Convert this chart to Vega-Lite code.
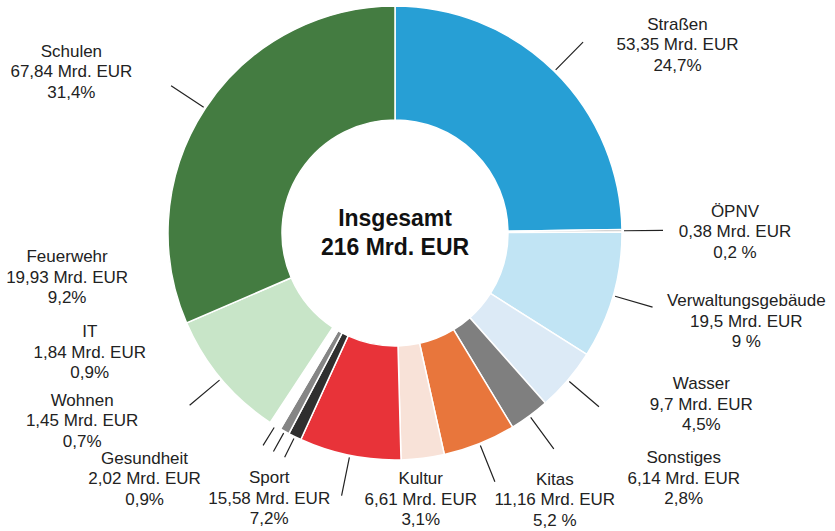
{
  "$schema": "https://vega.github.io/schema/vega-lite/v6.json",
  "width": 790,
  "height": 466,
  "autosize": "none",
  "padding": {"left": 0, "top": 0, "right": 45, "bottom": 65},
  "background": "white",
  "config": {
    "view": {"stroke": null},
    "text": {"font": "Liberation Sans", "fontSize": 17, "color": "#222222", "lineBreak": "\n", "lineHeight": 20.5, "align": "center", "baseline": "middle", "radius": 300}
  },
  "layer": [
    {
      "data": {
        "values": [
          {"n": 1, "cat": "Straßen", "value": 53.35, "label": "Straßen\n53,35 Mrd. EUR\n24,7%"},
          {"n": 2, "cat": "ÖPNV", "value": 0.38, "label": "ÖPNV\n0,38 Mrd. EUR\n0,2 %"},
          {"n": 3, "cat": "Verwaltungsgebäude", "value": 19.5, "label": "Verwaltungsgebäude\n19,5 Mrd. EUR\n9 %"},
          {"n": 4, "cat": "Wasser", "value": 9.7, "label": "Wasser\n9,7 Mrd. EUR\n4,5%"},
          {"n": 5, "cat": "Sonstiges", "value": 6.14, "label": "Sonstiges\n6,14 Mrd. EUR\n2,8%"},
          {"n": 6, "cat": "Kitas", "value": 11.16, "label": "Kitas\n11,16 Mrd. EUR\n5,2 %"},
          {"n": 7, "cat": "Kultur", "value": 6.61, "label": "Kultur\n6,61 Mrd. EUR\n3,1%"},
          {"n": 8, "cat": "Sport", "value": 15.58, "label": "Sport\n15,58 Mrd. EUR\n7,2%"},
          {"n": 9, "cat": "Gesundheit", "value": 2.02, "label": "Gesundheit\n2,02 Mrd. EUR\n0,9%"},
          {"n": 10, "cat": "Wohnen", "value": 1.45, "label": "Wohnen\n1,45 Mrd. EUR\n0,7%"},
          {"n": 11, "cat": "IT", "value": 1.84, "label": "IT\n1,84 Mrd. EUR\n0,9%"},
          {"n": 12, "cat": "Feuerwehr", "value": 19.93, "label": "Feuerwehr\n19,93 Mrd. EUR\n9,2%"},
          {"n": 13, "cat": "Schulen", "value": 67.84, "label": "Schulen\n67,84 Mrd. EUR\n31,4%"}
        ]
      },
      "encoding": {
        "theta": {"field": "value", "type": "quantitative", "stack": true},
        "order": {"field": "n", "type": "quantitative"},
        "detail": {"field": "cat", "type": "nominal"}
      },
      "layer": [
        {
          "mark": {"type": "arc", "radius": 227, "innerRadius": 113, "stroke": "white", "strokeWidth": 1.5},
          "encoding": {
            "color": {
              "field": "cat", "type": "nominal", "legend": null,
              "scale": {
                "domain": ["Straßen", "ÖPNV", "Verwaltungsgebäude", "Wasser", "Sonstiges", "Kitas", "Kultur", "Sport", "Gesundheit", "Wohnen", "IT", "Feuerwehr", "Schulen"],
                "range": ["#279fd5", "#a6a6a6", "#c1e4f4", "#dceaf6", "#7f7f7f", "#e8763c", "#f8e2d8", "#e83339", "#2f2f2f", "#858585", "#ffffff", "#c8e5c8", "#447c41"]
              }
            }
          }
        },
        {
          "mark": {"type": "arc", "radius": 268, "innerRadius": 229, "padAngle": 3, "filled": false, "stroke": "#222222", "strokeWidth": 1.2},
          "encoding": {
            "strokeOpacity": {"condition": {"test": "indexof(['Kultur', 'Gesundheit', 'Wohnen', 'IT'], datum.cat) >= 0", "value": 0}, "value": 1}
          }
        },
        {
          "mark": {"type": "arc", "radius": 250, "innerRadius": 229, "padAngle": 3, "filled": false, "stroke": "#222222", "strokeWidth": 1.2},
          "encoding": {
            "strokeOpacity": {"condition": {"test": "indexof(['Gesundheit', 'Wohnen', 'IT'], datum.cat) >= 0", "value": 1}, "value": 0}
          }
        },
        {"mark": {"type": "text", "dx": 72, "dy": 5.5}, "encoding": {"text": {"condition": {"test": "datum.cat === 'Straßen'", "field": "label"}, "value": ""}}},
        {"mark": {"type": "text", "dx": 40, "dy": -18.5}, "encoding": {"text": {"condition": {"test": "datum.cat === 'ÖPNV'", "field": "label"}, "value": ""}}},
        {"mark": {"type": "text", "dx": 63, "dy": -14.5}, "encoding": {"text": {"condition": {"test": "datum.cat === 'Verwaltungsgebäude'", "field": "label"}, "value": ""}}},
        {"mark": {"type": "text", "dx": 78, "dy": -43.5}, "encoding": {"text": {"condition": {"test": "datum.cat === 'Wasser'", "field": "label"}, "value": ""}}},
        {"mark": {"type": "text", "dx": 111, "dy": -16.5}, "encoding": {"text": {"condition": {"test": "datum.cat === 'Sonstiges'", "field": "label"}, "value": ""}}},
        {"mark": {"type": "text", "dx": 48, "dy": -31.5}, "encoding": {"text": {"condition": {"test": "datum.cat === 'Kitas'", "field": "label"}, "value": ""}}},
        {"mark": {"type": "text", "dx": -11, "dy": -51.5}, "encoding": {"text": {"condition": {"test": "datum.cat === 'Kultur'", "field": "label"}, "value": ""}}},
        {"mark": {"type": "text", "dx": -66, "dy": -48.5}, "encoding": {"text": {"condition": {"test": "datum.cat === 'Sport'", "field": "label"}, "value": ""}}},
        {"mark": {"type": "text", "dx": -118, "dy": -43.5}, "encoding": {"text": {"condition": {"test": "datum.cat === 'Gesundheit'", "field": "label"}, "value": ""}}},
        {"mark": {"type": "text", "dx": -167, "dy": -94.5}, "encoding": {"text": {"condition": {"test": "datum.cat === 'Wohnen'", "field": "label"}, "value": ""}}},
        {"mark": {"type": "text", "dx": -147, "dy": -155.5}, "encoding": {"text": {"condition": {"test": "datum.cat === 'IT'", "field": "label"}, "value": ""}}},
        {"mark": {"type": "text", "dx": -98, "dy": -168.5}, "encoding": {"text": {"condition": {"test": "datum.cat === 'Feuerwehr'", "field": "label"}, "value": ""}}},
        {"mark": {"type": "text", "dx": -73, "dy": -16.5}, "encoding": {"text": {"condition": {"test": "datum.cat === 'Schulen'", "field": "label"}, "value": ""}}}
      ]
    },
    {
      "data": {"values": [{"label": "Insgesamt\n216 Mrd. EUR"}]},
      "mark": {"type": "text", "radius": 0, "dy": -14.5, "fontSize": 23, "fontWeight": "bold", "lineHeight": 29, "color": "#111111"},
      "encoding": {"text": {"field": "label", "type": "nominal"}}
    }
  ]
}
